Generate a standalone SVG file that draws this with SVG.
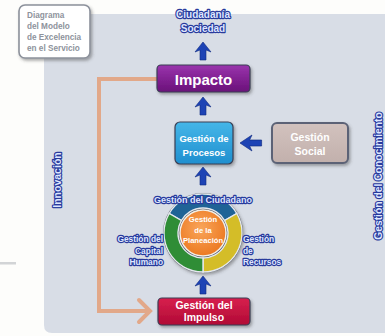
<svg xmlns="http://www.w3.org/2000/svg" width="385" height="336" viewBox="0 0 385 336">
<defs>
<style>
.lbl{font-family:"Liberation Sans",Arial,sans-serif;font-weight:bold;fill:#dfe6ff;stroke:#283a9c;stroke-width:2.3;paint-order:stroke;stroke-linejoin:round}
.wt{font-family:"Liberation Sans",Arial,sans-serif;font-weight:bold;fill:#ffffff}
.gt{font-family:"Liberation Sans",Arial,sans-serif;font-weight:bold;fill:#8e939c}
.arr{fill:#1d43b5;stroke:#0f2a82;stroke-width:0.6}
.box{stroke:#3a3f55;stroke-width:1.2}
</style>
<filter id="sh" x="-20%" y="-20%" width="150%" height="160%">
<feDropShadow dx="1.5" dy="2" stdDeviation="1.5" flood-color="#444" flood-opacity="0.45"/>
</filter>
<linearGradient id="gPur" x1="0" y1="0" x2="0" y2="1"><stop offset="0" stop-color="#9a35ad"/><stop offset="1" stop-color="#6a1079"/></linearGradient>
<linearGradient id="gBlu" x1="0" y1="0" x2="0" y2="1"><stop offset="0" stop-color="#45b6e8"/><stop offset="1" stop-color="#1f8fcf"/></linearGradient>
<linearGradient id="gRed" x1="0" y1="0" x2="0" y2="1"><stop offset="0" stop-color="#d8204e"/><stop offset="1" stop-color="#b00a35"/></linearGradient>
<linearGradient id="gSoc" x1="0" y1="0" x2="0" y2="1"><stop offset="0" stop-color="#d2c2be"/><stop offset="1" stop-color="#c2b0ac"/></linearGradient>
<radialGradient id="gOr" cx="0.45" cy="0.4" r="0.6"><stop offset="0" stop-color="#f9a55a"/><stop offset="1" stop-color="#ec7a22"/></radialGradient>
<path id="up" d="M0,0 L8,10 L3,8 L3,18 L-3,18 L-3,8 L-8,10 Z"/>
</defs>
<rect width="385" height="336" fill="#fdfdfb"/>
<path d="M44,14 H385 V333 H52 Q44,333 44,325 Z" fill="#d8dde6"/>
<rect x="0" y="262" width="16" height="2.5" fill="#d2d4d6"/>

<g id="title-box">
<rect x="19" y="5" width="71" height="53" rx="6" fill="#ffffff" stroke="#8c919b" stroke-width="1.6" filter="url(#sh)"/>
<text class="gt" font-size="8.2" x="27" y="18">Diagrama</text>
<text class="gt" font-size="8.2" x="27" y="28.5">del Modelo</text>
<text class="gt" font-size="8.2" x="27" y="39.5">de Excelencia</text>
<text class="gt" font-size="8.2" x="27" y="50.5">en el Servicio</text>
</g>

<g id="connectors">
<path d="M157,79 H99 V311 H150" fill="none" stroke="#e2a889" stroke-width="4"/>
<path d="M139,300 L150,311 L139,322" fill="none" stroke="#e2a889" stroke-width="4" stroke-linecap="round"/>
<use href="#up" class="arr" transform="translate(203,42)"/>
<use href="#up" class="arr" transform="translate(203,97)"/>
<use href="#up" class="arr" transform="translate(203,167)"/>
<use href="#up" class="arr" transform="translate(203,276)"/>
<use href="#up" class="arr" transform="translate(240,143) rotate(-90) scale(1,1.2)"/>
</g>

<g id="ciudadania">
<text class="lbl" font-size="10" x="203" y="18" text-anchor="middle">Ciudadanía</text>
<text class="lbl" font-size="10" x="203" y="32" text-anchor="middle">Sociedad</text>
</g>

<g id="impacto">
<rect class="box" x="157" y="65" width="93" height="27" rx="4" fill="url(#gPur)" filter="url(#sh)"/>
<text class="wt" font-size="15" x="203.5" y="84.5" text-anchor="middle">Impacto</text>
</g>

<g id="procesos">
<rect class="box" x="175" y="122" width="58" height="42" rx="5" fill="url(#gBlu)" filter="url(#sh)"/>
<text class="wt" font-size="9.5" x="204" y="141.5" text-anchor="middle">Gestión de</text>
<text class="wt" font-size="9.5" x="204" y="156" text-anchor="middle">Procesos</text>
</g>

<g id="social">
<rect x="272" y="123" width="76" height="40" rx="5" fill="url(#gSoc)" stroke="#5b6276" stroke-width="2" filter="url(#sh)"/>
<text class="wt" font-size="10.5" x="310" y="140.5" text-anchor="middle">Gestión</text>
<text class="wt" font-size="10.5" x="310" y="155" text-anchor="middle">Social</text>
</g>

<g id="ring">
<circle cx="203" cy="233" r="40" fill="#4a4f5a" filter="url(#sh)"/>
<path d="M169.2,213.5 A39,39 0 0 1 236.8,213.5 L224.65,220.5 A25,25 0 0 0 181.35,220.5 Z" fill="#1f6396" stroke="#e4e8ee" stroke-width="1.4"/>
<path d="M236.8,213.5 A39,39 0 0 1 203,272 L203,258 A25,25 0 0 0 224.65,220.5 Z" fill="#d4bd28" stroke="#e4e8ee" stroke-width="1.4"/>
<path d="M203,272 A39,39 0 0 1 169.2,213.5 L181.35,220.5 A25,25 0 0 0 203,258 Z" fill="#2f8d36" stroke="#e4e8ee" stroke-width="1.4"/>
<circle cx="203" cy="233" r="23" fill="url(#gOr)" stroke="#f4efe6" stroke-width="1.5"/>
<text class="wt" font-size="7.6" x="203" y="222" text-anchor="middle">Gestión</text>
<text class="wt" font-size="7.6" x="203" y="232.5" text-anchor="middle">de la</text>
<text class="wt" font-size="7.6" x="203" y="243" text-anchor="middle">Planeación</text>
</g>

<g id="ring-labels">
<text class="lbl" font-size="9" x="203" y="202.5" text-anchor="middle">Gestión del Ciudadano</text>
<text class="lbl" font-size="8.4" x="163" y="241.5" text-anchor="end">Gestión del</text>
<text class="lbl" font-size="8.4" x="163" y="253.5" text-anchor="end">Capital</text>
<text class="lbl" font-size="8.4" x="163" y="265" text-anchor="end">Humano</text>
<text class="lbl" font-size="8.4" x="243" y="241.5">Gestión</text>
<text class="lbl" font-size="8.4" x="243" y="253.5">de</text>
<text class="lbl" font-size="8.4" x="243" y="265">Recursos</text>
</g>

<g id="impulso">
<rect class="box" x="158" y="298" width="92" height="27" rx="4" fill="url(#gRed)" filter="url(#sh)"/>
<text class="wt" font-size="10.5" x="204" y="309" text-anchor="middle">Gestión del</text>
<text class="wt" font-size="10.5" x="204" y="321" text-anchor="middle">Impulso</text>
</g>

<g id="innovacion">
<text class="lbl" font-size="10.5" transform="translate(60.5,180) rotate(-90)" text-anchor="middle">Innovación</text>
</g>

<g id="conocimiento">
<text class="lbl" font-size="10.3" transform="translate(382,176) rotate(-90)" text-anchor="middle">Gestión del Conocimiento</text>
</g>
</svg>
